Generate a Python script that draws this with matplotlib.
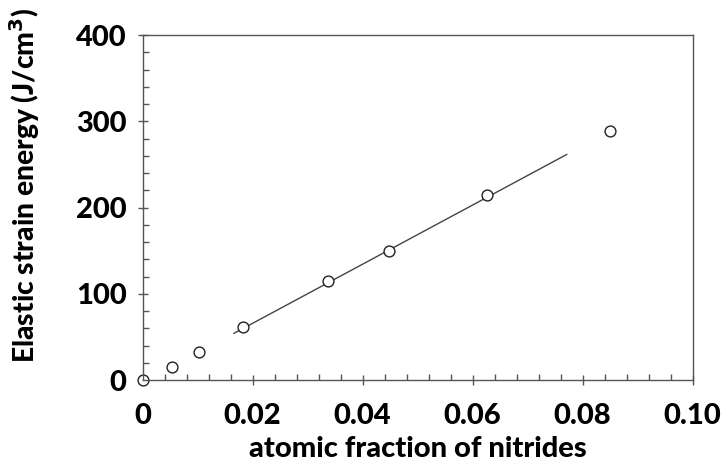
import numpy as np
import matplotlib
matplotlib.use("Agg")
import matplotlib.pyplot as plt
from matplotlib.ticker import MultipleLocator

# data
frac = [0.0, 0.0054, 0.0102, 0.0183, 0.0337, 0.0448, 0.0626, 0.0850]
energy = [0.0, 15.4, 32.1, 61.1, 115.1, 149.1, 214.4, 288.5]
# fitted line (end points)
fit_x = [0.0166, 0.0771]
fit_y = [54.1, 261.5]

xticks = [0, 0.02, 0.04, 0.06, 0.08, 0.10]
xticklabels = ["0", "0.02", "0.04", "0.06", "0.08", "0.10"]
yticks = [0, 100, 200, 300, 400]
yticklabels = ["0", "100", "200", "300", "400"]

plt.rcParams['font.family'] = ['Lato', 'DejaVu Sans']
W = 900

fig = plt.figure(figsize=(7.27, 4.68), dpi=100)
ax = fig.add_axes([0.1962, 0.188, 0.7566, 0.7372])

ax.plot(fit_x, fit_y, color="#444444", lw=1.0)
# markers below the spines so the axis lines show through the one at the origin
ax.plot(frac, energy, linestyle="none", marker="o", ms=7.8,
        mfc="white", mec="#222222", mew=1.0, clip_on=False, zorder=2)

ax.set_xlim(0, 0.10)
ax.set_ylim(0, 400)
ax.set_xticks(xticks)
ax.set_xticklabels(xticklabels)
ax.set_yticks(yticks)
ax.set_yticklabels(yticklabels)
ax.xaxis.set_minor_locator(MultipleLocator(0.004))
ax.yaxis.set_minor_locator(MultipleLocator(20))

for s in ax.spines.values():
    s.set_color("#555555")
    s.set_linewidth(1.0)

ax.tick_params(which="major", direction="inout", length=7, width=1,
               color="#555555", labelsize=21)
ax.tick_params(which="minor", direction="in", length=4, width=1, color="#555555")
ax.tick_params(axis="x", which="major", pad=13)
ax.tick_params(axis="y", which="major", pad=8)
for lab in ax.get_xticklabels() + ax.get_yticklabels():
    lab.set_fontweight(W)

ax.set_xlabel("atomic fraction of nitrides", fontsize=21, fontweight=W, labelpad=5)
ax.set_ylabel("Elastic strain energy (J/cm$^\\mathbf{3}$)", fontsize=20.3,
              fontweight=W)
ax.yaxis.set_label_coords(-0.183, 0.565)

fig.savefig("out.png", dpi=100)
